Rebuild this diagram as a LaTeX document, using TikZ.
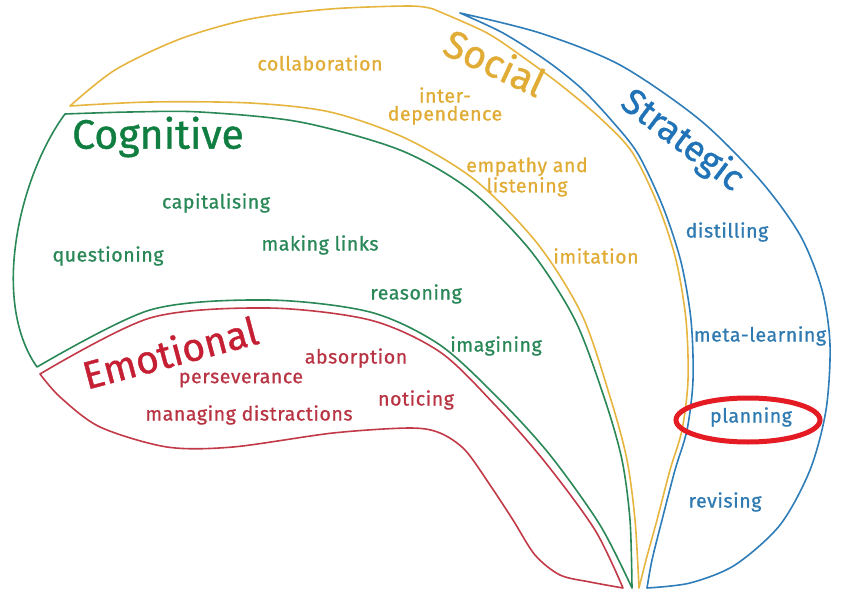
\documentclass[tikz,border=0pt]{standalone}
\usepackage{fontspec}
\setmainfont{Fira Sans}
\newfontfamily\lblfont{Fira Sans}[FakeBold=0.9, LetterSpace=3]
\newfontfamily\ttlfont{Fira Sans}[FakeBold=1.0]
\definecolor{yl}{HTML}{E6B53F}
\definecolor{ytx}{HTML}{E0AC35}
\definecolor{gl}{HTML}{2A8856}
\definecolor{gtt}{HTML}{0F7E40}
\definecolor{gtx}{HTML}{2A8858}
\definecolor{rl}{HTML}{C23A48}
\definecolor{rtt}{HTML}{C51F34}
\definecolor{rtx}{HTML}{B83443}
\definecolor{bl}{HTML}{2E7DB8}
\definecolor{btt}{HTML}{2173B7}
\definecolor{btx}{HTML}{2F7AB0}
\definecolor{hl}{HTML}{E41B22}
\tikzset{
  region/.style={line width=1.6pt, line join=round},
  lbl/.style={inner sep=0pt, font=\lblfont\fontsize{19.5}{18}\selectfont, align=center},
  ttl/.style={inner sep=0pt, font=\ttlfont\fontsize{39}{40}\selectfont},
}
\begin{document}
\begin{tikzpicture}[x=1pt,y=-1pt]
\useasboundingbox (0,0) rectangle (845,601);
% Social
\draw[region, yl] plot[smooth] coordinates {(70,106) (115,70) (180,39) (250,19) (330,9) (410,6) (433,9)}
  -- plot[smooth] coordinates {(433,9) (487,33) (527,60) (562,86) (600,118) (632,152) (658,205) (676,260) (686,320) (688,380) (682,430) (670,470) (657,520) (646,560) (639,588)}
  -- plot[smooth] coordinates {(639,588) (635,520) (627,460) (611,400) (582,315) (537,243) (475,180) (405,138) (330,112) (250,103) (150,102) (70,106)}
  -- cycle;
% Strategic
\draw[region, bl] plot[smooth] coordinates {(460,13) (503,33) (547,61) (582,89) (612,121) (638,154) (663,207) (681,262) (691,320) (693,380) (687,430) (675,470) (662,520) (652,560) (647,588)}
  -- plot[smooth] coordinates {(647,588) (690,583) (735,565) (780,525) (810,470) (826,410) (830,345) (822,290) (800,235) (760,180) (700,120) (620,65) (540,33) (460,13)}
  -- cycle;
% Cognitive
\draw[region, gl] plot[smooth] coordinates {(65,114) (130,112) (200,112) (300,122) (400,150) (470,190) (530,250) (575,320) (605,400) (622,460) (630,520) (632,588)}
  -- plot[smooth] coordinates {(632,588) (600,525) (550,455) (500,400) (440,345) (370,312) (267,300) (150,310) (37,367)}
  .. controls (-10,300) and (20,175) .. (65,114)
  -- cycle;
% Emotional
\draw[region, rl] plot[smooth] coordinates {(40,374) (150,318) (267,308) (370,320) (440,352) (495,405) (545,462) (595,530) (623,588)}
  -- plot[smooth] coordinates {(623,588) (590,582) (560,575) (535,555) (513,520) (490,485) (465,450) (440,433) (410,428) (333,433) (233,447) (167,447) (100,427) (60,397) (40,374)}
  -- cycle;
% titles
\node[ttl, ytx, rotate=-25] (tsoc) at (495,62) {Social};
\node[ttl, btt, rotate=-37, font=\ttlfont\fontsize{36}{40}\selectfont] (tstr) at (682,141) {Strategic};
\node[ttl, gtt, font=\ttlfont\fontsize{41}{42}\selectfont] (tcog) at (158,137) {Cognitive};
\node[ttl, rtt, rotate=15] (temo) at (170,352) {Emotional};
% social labels
\node[lbl, ytx] (collab) at (320,63) {collaboration};
\node[lbl, ytx] (inter) at (445,106) {inter-\\dependence};
\node[lbl, ytx] (empathy) at (527,177) {empathy and\\listening};
\node[lbl, ytx] (imit) at (596,256) {imitation};
% cognitive labels
\node[lbl, gtx] (capit) at (216,203) {capitalising};
\node[lbl, gtx] (quest) at (108,256) {questioning};
\node[lbl, gtx] (links) at (320,245) {making links};
\node[lbl, gtx] (reason) at (416,294) {reasoning};
\node[lbl, gtx] (imag) at (496,346) {imagining};
% emotional labels
\node[lbl, rtx] (absorb) at (356,358) {absorption};
\node[lbl, rtx] (persev) at (241,380) {perseverance};
\node[lbl, rtx] (notic) at (416,400) {noticing};
\node[lbl, rtx] (manag) at (249,415) {managing distractions};
% strategic labels
\node[lbl, btx] (distil) at (727,232) {distilling};
\node[lbl, btx] (meta) at (760,336) {meta-learning};
\node[lbl, btx] (plan) at (751,417) {planning};
\node[lbl, btx] (revis) at (725,502) {revising};
% highlight
\draw[hl, line width=5pt] (748,420) ellipse [x radius=72, y radius=22];
\end{tikzpicture}
\end{document}
